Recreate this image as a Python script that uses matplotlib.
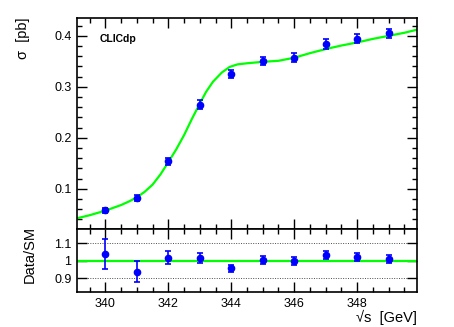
import matplotlib
matplotlib.use("Agg")
import matplotlib.pyplot as plt
from matplotlib.ticker import MultipleLocator, NullLocator

plt.rcParams['font.family'] = ['Liberation Sans', 'DejaVu Sans']

# measured points
energy = [340, 341, 342, 343, 344, 345, 346, 347, 348, 349]
xsec = [0.058, 0.081, 0.154, 0.265, 0.325, 0.350, 0.357, 0.384, 0.394, 0.405]
xsec_err = [0.005, 0.006, 0.0065, 0.009, 0.0085, 0.008, 0.009, 0.009, 0.009, 0.009]
ratio = [1.038, 0.937, 1.017, 1.013, 0.957, 1.002, 0.998, 1.033, 1.021, 1.010]
ratio_err = [0.087, 0.060, 0.039, 0.028, 0.020, 0.022, 0.022, 0.022, 0.022, 0.022]

# SM curve
sm_x = [339.1, 339.5, 340.0, 340.5, 340.75, 341.0, 341.25, 341.5, 341.75, 342.0,
        342.25, 342.5, 342.75, 343.0, 343.2, 343.42, 343.7, 343.95, 344.2,
        344.48, 345.0, 345.5, 346.0, 346.5, 347.0, 347.5, 348.0, 348.5, 349.0,
        349.5, 349.9]
sm_y = [0.042, 0.048, 0.057, 0.068, 0.075, 0.083, 0.094, 0.108, 0.128, 0.152,
        0.177, 0.205, 0.237, 0.267, 0.290, 0.310, 0.328, 0.339, 0.344,
        0.346, 0.349, 0.351, 0.357, 0.366, 0.374, 0.381, 0.387, 0.394, 0.400,
        0.406, 0.412]

fig = plt.figure(figsize=(4.54, 3.27), dpi=100)
ax = fig.add_axes([0.1696, 0.2997, 0.7489, 0.6453])
ax2 = fig.add_axes([0.1696, 0.107, 0.7489, 0.1927], sharex=ax)

blue = (0, 0, 1)
green = (0, 1, 0)

ax.plot(sm_x, sm_y, color=green, lw=1.6, zorder=2)
ax.errorbar(energy, xsec, yerr=xsec_err, fmt='o', color=blue, ms=4.5,
            capsize=2.5, elinewidth=1.2, capthick=1.2, zorder=3)
ax.set_xlim(339.1, 349.9)
ax.set_ylim(0.021, 0.435)
ax.yaxis.set_major_locator(MultipleLocator(0.1))
ax.yaxis.set_minor_locator(MultipleLocator(0.02))
ax.text(0.066, 0.9, 'CLICdp', transform=ax.transAxes, fontsize=7.5,
        fontweight='bold', va='center', ha='left')

ax2.axhline(1.0, color=green, lw=1.6, zorder=2)
for lvl in (0.9, 1.1):
    ax2.axhline(lvl, xmin=0.025, xmax=0.975, color='0.3', lw=0.7,
                ls=(0, (1, 1.5)), zorder=1)
ax2.errorbar(energy, ratio, yerr=ratio_err, fmt='o', color=blue, ms=4.5,
             capsize=2.5, elinewidth=1.2, capthick=1.2, zorder=3)
ax2.set_ylim(0.82, 1.18)
ax2.set_yticks([0.9, 1.0, 1.1])
ax2.set_yticklabels(['0.9', '1', '1.1'])
ax2.yaxis.set_minor_locator(NullLocator())
ax2.xaxis.set_major_locator(MultipleLocator(2))
ax2.xaxis.set_minor_locator(MultipleLocator(0.5))

for a in (ax, ax2):
    a.tick_params(which='both', direction='in', top=True, right=True,
                  labelsize=9, width=1, pad=4)
    a.tick_params(which='major', length=7)
    a.tick_params(which='minor', length=3.5)
    for s in a.spines.values():
        s.set_linewidth(1.2)
ax.tick_params(labelbottom=False)

fig.text(0.051, 0.945, '\u03c3  [pb]', rotation=90, ha='center', va='top',
         fontsize=10.5)
fig.text(0.066, 0.31, 'Data/SM', rotation=90, ha='center', va='top',
         fontsize=10.5)
fig.text(0.9185, 0.028, '\u221as  [GeV]', ha='right',
         va='center', fontsize=10.5)

fig.savefig('out.png', dpi=100)
